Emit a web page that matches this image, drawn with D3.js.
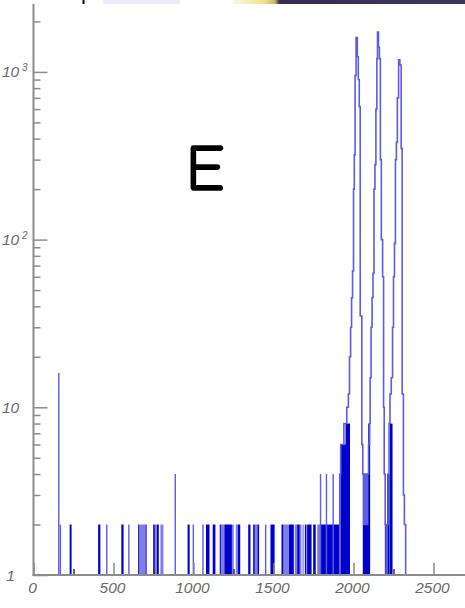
<!DOCTYPE html>
<html><head><meta charset="utf-8">
<script src="https://cdn.jsdelivr.net/npm/d3@7/dist/d3.min.js"></script>
<style>html,body{margin:0;padding:0;background:#fff;}svg{display:block;}</style>
</head><body>
<svg id="chart" width="465" height="608"></svg>
<script>
// ---------- DATA ----------
const xTickValues = [0, 500, 1000, 1500, 2000, 2500];
const xTickLabels = ["0", "500", "1000", "1500", "2000", "2500"];
const xMinorTickValues = [250, 750, 1250, 1750, 2250];
const yMajorTickValues = [1, 10, 100, 1000];
const yTickBase = ["1", "10", "10", "10"];
const yTickExp = ["", "", "2", "3"];
const yMinorTickValues = [2,3,4,5,6,7,8,9,20,30,40,50,60,70,80,90,200,300,400,500,600,700,800,900,2000];

// isolated single-channel lines
const spikeChannel = [158, 168, 458, 596, 886, 999, 1059, 1451, 1794, 1831, 1873];
const spikeCount   = [16,  2,   2,   2,   4,   2,   2,    2,    4,    4,    4];

// solid (densely filled) channel ranges
const bandStart = [226, 404, 549, 654, 700, 748, 771, 963, 1078, 1120, 1164, 1193, 1278, 1342, 1373, 1400, 1481, 1550, 1597, 1648, 1696, 1710, 1748, 1789, 1918, 1950, 2058, 2092, 2196, 2210, 2228];
const bandEnd   = [238, 418, 563, 660, 707, 758, 783, 976, 1100, 1137, 1171, 1240, 1292, 1356, 1383, 1410, 1507, 1562, 1627, 1664, 1706, 1738, 1764, 1914, 1978, 1978, 2100, 2104, 2222, 2226, 2244];
const bandTop   = [2,   2,   2,   2,   2,   2,   2,   2,   2,    2,    2,    2,    2,    2,    2,    2,    2,    2,    2,    2,    2,    2,    2,    2,    6,    8,    4,    8,    2,    4,    8];

// half-filled channel ranges
const hatchStart = [660, 758, 793, 1171, 1240, 1264, 1383, 1562, 1633, 1664, 1681, 1773];
const hatchEnd   = [700, 771, 812, 1193, 1252, 1278, 1400, 1597, 1648, 1675, 1689, 1789];
const hatchTop   = [2,   2,   2,   2,    2,    2,    2,    2,    2,    2,    2,    2];

// peak region profile (channel, counts)
const peakChannel = [1914,1914,1920,1940,1958,1968,1975,1982,1988,1994,2000,2005,2010,2016,2024,2030,2036,2042,2052,2058,2064,2072,2080,2088,2094,2100,2104,2110,2116,2122,2128,2134,2140,2146,2150,2156,2162,2168,2174,2182,2188,2192,2198,2204,2210,2216,2222,2228,2236,2244,2250,2256,2262,2268,2274,2282,2290,2298,2304,2312,2318,2326];
const peakCount   = [1,   4,   6,   8,   10,  12,  20,  30,  45,  65,  200, 320, 950, 1600,1230,900, 620, 35,  6,   4,   2,   4,   2,   4,   6,   8,   15,  30,  45,  63,  200, 280, 600, 1200,1730,1400,1200,300, 100, 60,  10,  4,   2,   1,   2,   4,   8,   12,  15,  30,  60,  95,  300, 380, 700, 1180,1100,350, 12,  3,   2,   1];

const xDomain = [0, 2700];
const yDomain = [1, 2540];

// ---------- DRAW ----------
const svg = d3.select("#chart");
const x = d3.scaleLinear().domain(xDomain).range([33.5, 465.5]);
const y = d3.scaleLog().domain(yDomain).range([575, 4]);
const yv = n => y(Math.max(n, 1));
const BLUE = "#0000cc";
const LIGHT = "#5c5ce4";

// top strip (cropped neighbouring slide content)
const defs = svg.append("defs");
const g = defs.append("linearGradient").attr("id", "strip");
[["0%","#fbf8e6"],["14%","#f1df86"],["18%","#cdb66a"],["20%","#3a2e50"],["100%","#3f3659"]]
  .forEach(s => g.append("stop").attr("offset", s[0]).attr("stop-color", s[1]));
svg.append("rect").attr("x", 82.5).attr("y", 0).attr("width", 2).attr("height", 4).attr("fill", "#111");
svg.append("rect").attr("x", 103).attr("y", 0).attr("width", 77).attr("height", 4).attr("fill", "#ebebf8");
svg.append("rect").attr("x", 233).attr("y", 0).attr("width", 232).attr("height", 4).attr("fill", "url(#strip)");

const plot = svg.append("g");

// bands
plot.selectAll("rect.band").data(bandStart.map((s, i) => [s, bandEnd[i], bandTop[i]]))
  .join("rect").attr("class", "band")
  .attr("x", d => x(d[0])).attr("width", d => Math.max(1, x(d[1]) - x(d[0])))
  .attr("y", d => yv(d[2])).attr("height", d => yv(1) - yv(d[2]))
  .attr("fill", BLUE);

// hatches
plot.selectAll("rect.hatch").data(hatchStart.map((s, i) => [s, hatchEnd[i], hatchTop[i]]))
  .join("rect").attr("class", "hatch")
  .attr("x", d => x(d[0])).attr("width", d => Math.max(1, x(d[1]) - x(d[0])))
  .attr("y", d => yv(d[2])).attr("height", d => yv(1) - yv(d[2]))
  .attr("fill", BLUE).attr("fill-opacity", 0.5);

// spikes
plot.selectAll("line.spike").data(spikeChannel.map((c, i) => [c, spikeCount[i]]))
  .join("line").attr("class", "spike")
  .attr("x1", d => x(d[0])).attr("x2", d => x(d[0]))
  .attr("y1", yv(1)).attr("y2", d => yv(d[1]))
  .attr("stroke", LIGHT).attr("stroke-width", 1.4);

// peak profile
const line = d3.line().x(d => x(d[0])).y(d => yv(d[1])).curve(d3.curveStepAfter);
plot.append("path").datum(peakChannel.map((c, i) => [c, peakCount[i]]))
  .attr("d", line).attr("fill", "none").attr("stroke", LIGHT).attr("stroke-width", 1.6);

// ---------- AXES ----------
const AX = "#8c8c8c";
const labelFont = "'Liberation Sans', Arial, sans-serif";

// y axis ticks
const yAxisMajor = d3.axisLeft(y).tickValues(yMajorTickValues).tickSizeInner(-14).tickSizeOuter(0).tickFormat("");
const yAxisMinor = d3.axisLeft(y).tickValues(yMinorTickValues).tickSizeInner(-7).tickSizeOuter(0).tickFormat("");
[yAxisMinor, yAxisMajor].forEach(a => {
  const ga = svg.append("g").attr("transform", `translate(${x(0)},0)`).call(a);
  ga.select(".domain").remove();
  ga.selectAll("line").attr("stroke", AX).attr("stroke-width", 1.5);
});

// x axis ticks
const xAxisMajor = d3.axisBottom(x).tickValues(xTickValues).tickSizeInner(-12).tickSizeOuter(0).tickFormat("");
const xAxisMinor = d3.axisBottom(x).tickValues(xMinorTickValues).tickSizeInner(-6).tickSizeOuter(0).tickFormat("");
const gxM = svg.append("g").attr("transform", `translate(0,${y(1)})`).call(xAxisMajor);
gxM.select(".domain").remove();
gxM.selectAll("line").attr("stroke", AX).attr("stroke-width", 1.5);
const gxm = svg.append("g").attr("transform", `translate(0,${y(1)})`).call(xAxisMinor);
gxm.select(".domain").remove();
gxm.selectAll("line").attr("stroke", "#333").attr("stroke-width", 1.5);

// axis lines
svg.append("line").attr("x1", x(0)).attr("x2", x(0)).attr("y1", y(yDomain[1])).attr("y2", y(1) + 1)
  .attr("stroke", AX).attr("stroke-width", 2);
svg.append("line").attr("x1", x(0) - 1).attr("x2", 465).attr("y1", y(1)).attr("y2", y(1))
  .attr("stroke", AX).attr("stroke-width", 2);

// y labels
yMajorTickValues.forEach((v, i) => {
  svg.append("text").attr("x", 10.5).attr("y", y(v) + 5.5).attr("text-anchor", "middle")
    .attr("font-family", labelFont).attr("font-style", "italic").attr("font-size", 15.5)
    .attr("fill", "#6a6a6a").text(yTickBase[i]);
  if (yTickExp[i]) {
    svg.append("text").attr("x", 22).attr("y", y(v) - 1)
      .attr("font-family", labelFont).attr("font-style", "italic").attr("font-size", 10)
      .attr("fill", "#6a6a6a").text(yTickExp[i]);
  }
});

// x labels
xTickValues.forEach((v, i) => {
  svg.append("text").attr("x", x(v) - 1).attr("y", 593).attr("text-anchor", "middle")
    .attr("font-family", labelFont).attr("font-style", "italic").attr("font-size", 15.5)
    .attr("fill", "#6a6a6a").text(xTickLabels[i]);
});

// panel letter
svg.append("text").attr("x", 186).attr("y", 190)
  .attr("font-family", "'Comic Sans MS', 'Comic Neue', Lato, sans-serif")
  .attr("font-size", 64).attr("stroke", "#000").attr("stroke-width", 1.5)
  .attr("fill", "#000").text("E");
</script>
</body></html>
